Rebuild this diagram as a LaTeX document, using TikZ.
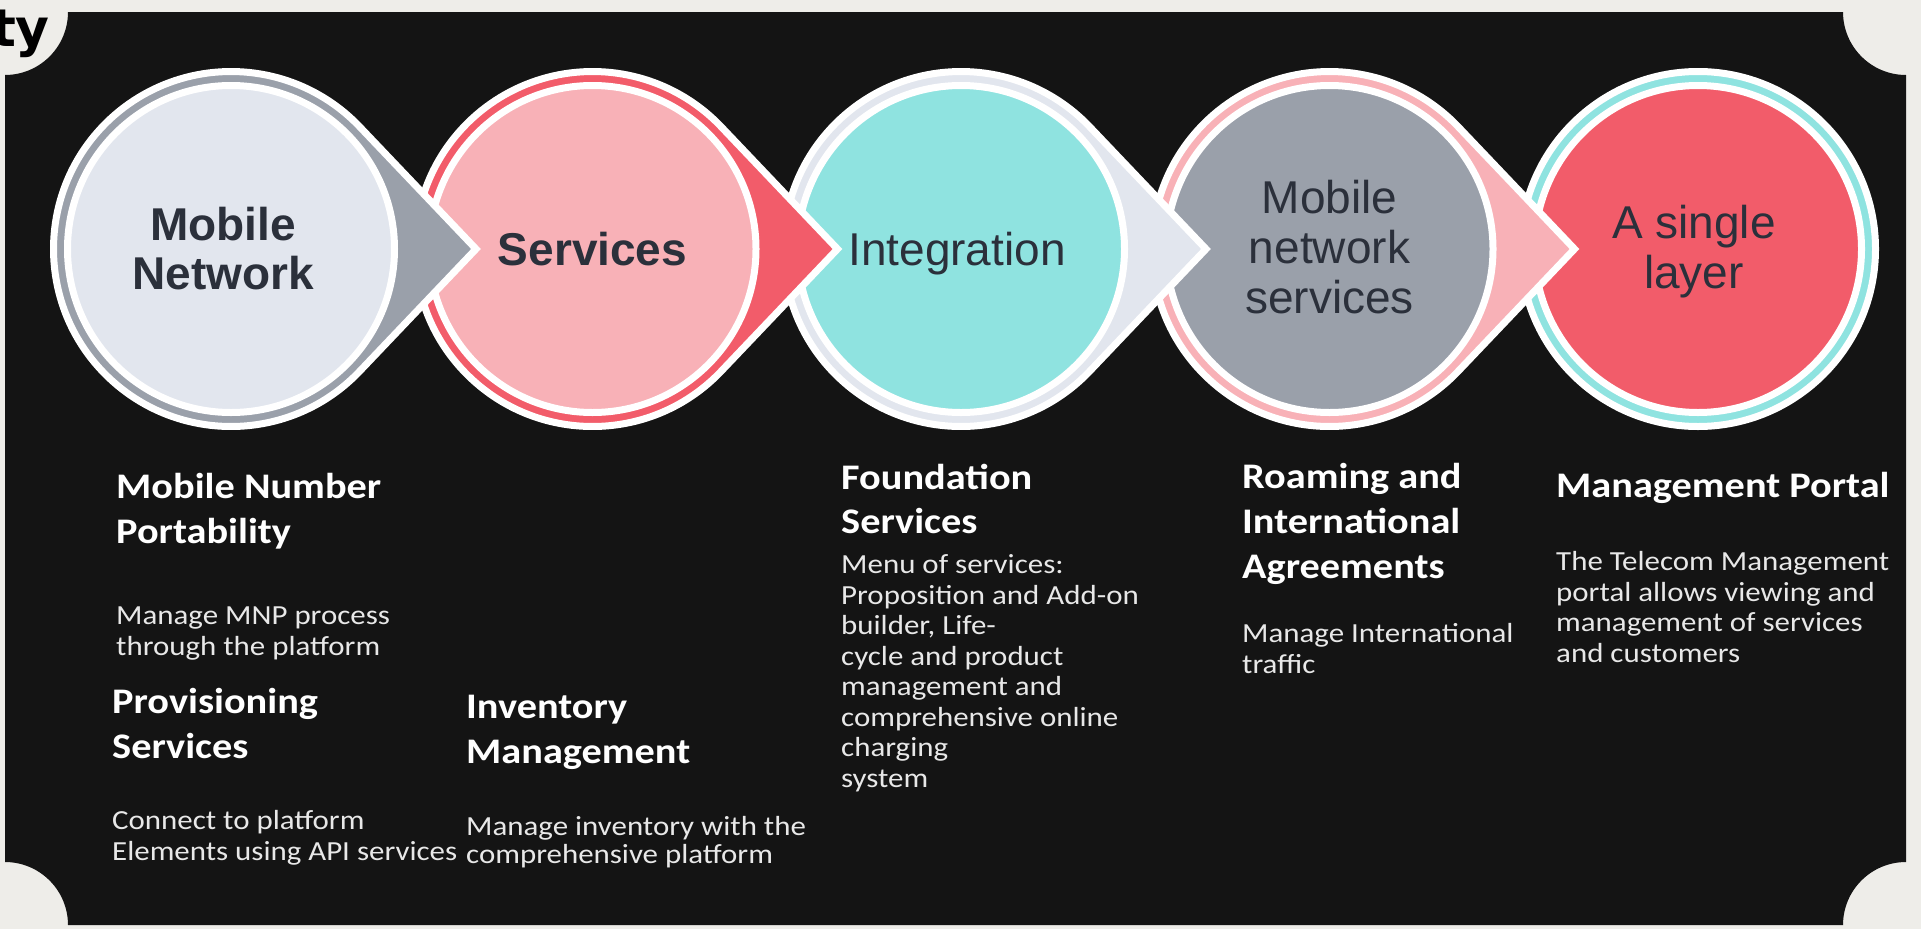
\documentclass[tikz,border=0pt]{standalone}
\usepackage{fontspec}
\setmainfont{Carlito}[FakeStretch=1.12]
\newfontfamily\circfont{Liberation Sans}
\newfontfamily\tyfont{DejaVu Sans}
\usetikzlibrary{positioning}

\definecolor{panel}{HTML}{141414}
\definecolor{paper}{HTML}{EEEDE9}
\definecolor{slate}{HTML}{9AA0AA}
\definecolor{mist}{HTML}{E2E6EE}
\definecolor{blush}{HTML}{F8B1B7}
\definecolor{coral}{HTML}{F25C6A}
\definecolor{aqua}{HTML}{8FE3E0}
\definecolor{ink}{HTML}{2B303B}
\definecolor{bodytext}{HTML}{E8E8E8}

\begin{document}
\begin{tikzpicture}[x=1pt,y=-1pt]
\tikzstyle{drop}=[draw=white, line width=7pt, miter limit=10]
\tikzstyle{disc}=[draw=white, line width=7pt]
\tikzstyle{title}=[inner sep=0pt, align=center, text=ink, font=\circfont\fontsize{46}{50}\selectfont]
\tikzstyle{boldtitle}=[title, font=\circfont\bfseries\fontsize{46}{49}\selectfont]
\tikzstyle{head}=[inner sep=0pt, anchor=base west, align=left, text=white, font=\bfseries\fontsize{36}{45}\selectfont]
\tikzstyle{blurb}=[inner sep=0pt, anchor=base west, align=left, text=bodytext, font=\fontsize{27.6}{30.5}\selectfont]
  \useasboundingbox (0,0) rectangle (1921,929);
  \fill[paper] (0,0) rectangle (1921,929);
  \fill[panel] (68,12) -- (1843,12) arc (180:90:63) -- (1906,862) arc (270:180:63)
        -- (68,925) arc (0:-90:63) -- (5,75) arc (90:0:63) -- cycle;
  \node[inner sep=0pt, anchor=base east, font=\tyfont\bfseries\fontsize{52}{52}\selectfont] (ty) at (50,46) {ty};

  \coordinate (net) at (231,249);
  \coordinate[right=361.5pt of net] (svc);
  \coordinate[right=368.5pt of svc] (intg);
  \coordinate[right=368.5pt of intg] (mns);
  \coordinate[right=368.5pt of mns] (layer);

  \path[drop, fill=aqua] (layer) circle (177.5);
  \path[disc, fill=coral] (layer) circle (163.5);
  \foreach \c/\fil/\rim in {mns/slate/blush, intg/aqua/mist, svc/blush/coral, net/mist/slate}{
    \begin{scope}[shift={(\c)}]
      \path[drop, fill=\rim] (245,0) -- (43.57:177.5) arc (43.57:316.43:177.5) -- cycle;
      \path[disc, fill=\fil] (0,0) circle (163.5);
    \end{scope}
  }

  \node[boldtitle] (netlabel) at ([xshift=-8pt]net) {Mobile\\Network};
  \node[boldtitle] (svclabel) at (svc) {Services};
  \node[title] (intglabel) at ([xshift=-4pt, yshift=-5pt]intg) {Integration};
  \node[title] (mnslabel) at ([yshift=2pt]mns) {Mobile\\network\\services};
  \node[title] (layerlabel) at ([xshift=-4pt, yshift=-3pt]layer) {A single\\layer};

  % anchor=base is the baseline of the last line
  \node[head] (mnp) at (116,543) {Mobile Number\\Portability};
  \node[blurb] (mnptext) at (116,655) {Manage MNP process\\through the platform};
  \node[head] (prov) at (112,758) {Provisioning\\Services};
  \node[blurb] (provtext) at (112,860) {Connect to platform\\Elements using API services};
  \node[head] (inv) at (466,763) {Inventory\\Management};
  \node[blurb, font=\fontsize{27.6}{28}\selectfont] (invtext) at (466,863) {Manage inventory with the\\comprehensive platform};
  \node[head, font=\bfseries\fontsize{36}{44}\selectfont] (found) at (841,533) {Foundation\\Services};
  \node[blurb] (foundtext) at (841,787) {Menu of services:\\Proposition and Add-on\\builder, Life-\\cycle and product\\management and\\comprehensive online\\charging\\system};
  \node[head] (roam) at (1242,578) {Roaming and\\International\\Agreements};
  \node[blurb] (roamtext) at (1242,673) {Manage International\\traffic};
  \node[head] (portal) at (1556,497) {Management Portal};
  \node[blurb] (portaltext) at (1556,662) {The Telecom Management\\portal allows viewing and\\management of services\\and customers};
\end{tikzpicture}
\end{document}
